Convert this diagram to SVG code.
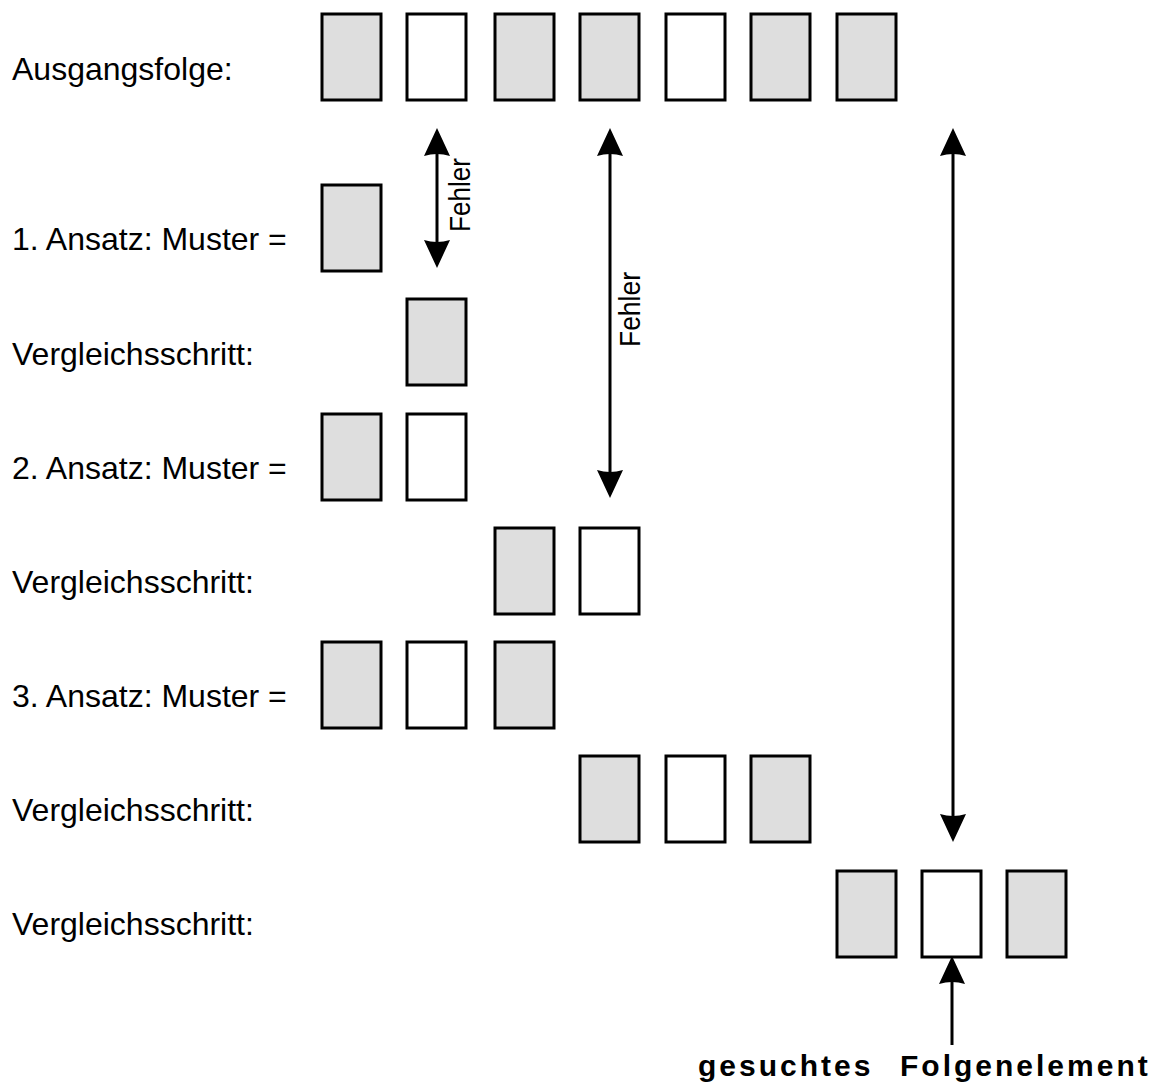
<svg xmlns="http://www.w3.org/2000/svg" width="1158" height="1085" viewBox="0 0 1158 1085">
<style>
.b{stroke:#000;stroke-width:3}
.g{fill:#dedede}
.w{fill:#fff}
.lbl{font-family:"Liberation Sans",Arial,sans-serif;font-size:32px;fill:#000}
.fe{font-family:"Liberation Sans",Arial,sans-serif;font-size:30px;fill:#000}
.bold{font-family:"Liberation Sans",Arial,sans-serif;font-size:30px;font-weight:bold;letter-spacing:3px;fill:#000}
.ln{stroke:#000;stroke-width:3;fill:none}
.hd{fill:#000}
</style>
<defs>
<rect id="box" width="59" height="86"/>
<path id="up" d="M0,0 L-13,28 Q0,24 13,28 Z"/>
<path id="down" d="M0,0 L-13,-28 Q0,-24 13,-28 Z"/>
</defs>
<rect width="1158" height="1085" fill="#fff"/>
<g id="labels">
<text class="lbl" x="12" y="80">Ausgangsfolge:</text>
<text class="lbl" x="12" y="250">1. Ansatz: Muster =</text>
<text class="lbl" x="12" y="365">Vergleichsschritt:</text>
<text class="lbl" x="12" y="479">2. Ansatz: Muster =</text>
<text class="lbl" x="12" y="593">Vergleichsschritt:</text>
<text class="lbl" x="12" y="707">3. Ansatz: Muster =</text>
<text class="lbl" x="12" y="821">Vergleichsschritt:</text>
<text class="lbl" x="12" y="935">Vergleichsschritt:</text>
</g>
<g id="row0">
<use href="#box" x="322" y="14" class="b g"/>
<use href="#box" x="407" y="14" class="b w"/>
<use href="#box" x="495" y="14" class="b g"/>
<use href="#box" x="580" y="14" class="b g"/>
<use href="#box" x="666" y="14" class="b w"/>
<use href="#box" x="751" y="14" class="b g"/>
<use href="#box" x="837" y="14" class="b g"/>
</g>
<g id="row1">
<use href="#box" x="322" y="185" class="b g"/>
</g>
<g id="row2">
<use href="#box" x="407" y="299" class="b g"/>
</g>
<g id="row3">
<use href="#box" x="322" y="414" class="b g"/>
<use href="#box" x="407" y="414" class="b w"/>
</g>
<g id="row4">
<use href="#box" x="495" y="528" class="b g"/>
<use href="#box" x="580" y="528" class="b w"/>
</g>
<g id="row5">
<use href="#box" x="322" y="642" class="b g"/>
<use href="#box" x="407" y="642" class="b w"/>
<use href="#box" x="495" y="642" class="b g"/>
</g>
<g id="row6">
<use href="#box" x="580" y="756" class="b g"/>
<use href="#box" x="666" y="756" class="b w"/>
<use href="#box" x="751" y="756" class="b g"/>
</g>
<g id="row7">
<use href="#box" x="837" y="871" class="b g"/>
<use href="#box" x="922" y="871" class="b w"/>
<use href="#box" x="1007" y="871" class="b g"/>
</g>
<g id="connectors">
<line class="ln" x1="437" y1="150" x2="437" y2="246"/>
<use href="#up" x="437" y="128" class="hd"/>
<use href="#down" x="437" y="268" class="hd"/>
<line class="ln" x1="610" y1="150" x2="610" y2="476"/>
<use href="#up" x="610" y="128" class="hd"/>
<use href="#down" x="610" y="498" class="hd"/>
<line class="ln" x1="953" y1="150" x2="953" y2="820"/>
<use href="#up" x="953" y="128" class="hd"/>
<use href="#down" x="953" y="842" class="hd"/>
<line class="ln" x1="952" y1="978" x2="952" y2="1045"/>
<use href="#up" x="952" y="956" class="hd"/>
</g>
<g id="edge-labels">
<text class="fe" transform="translate(470,232) rotate(-90)" textLength="74" lengthAdjust="spacingAndGlyphs">Fehler</text>
<text class="fe" transform="translate(640,347) rotate(-90)" textLength="75" lengthAdjust="spacingAndGlyphs">Fehler</text>
</g>
<g id="result-label">
<text class="bold" y="1076"><tspan x="698">gesuchtes</tspan><tspan x="900">Folgenelement</tspan></text>
</g>
</svg>
